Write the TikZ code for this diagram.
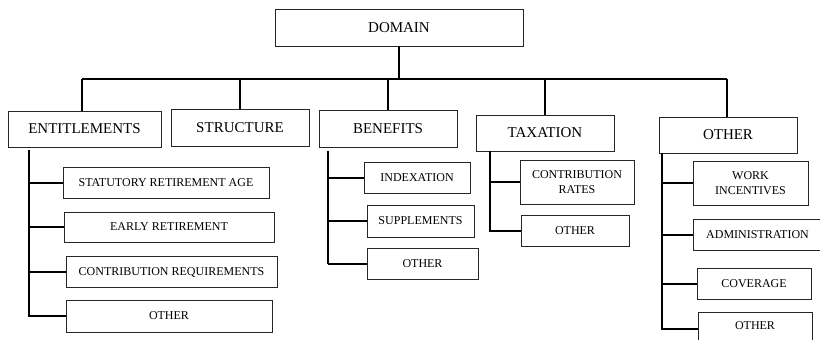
\documentclass[tikz,border=0pt]{standalone}
\usepackage{fontspec}
\setmainfont{Liberation Serif}
\begin{document}
\begin{tikzpicture}[x=1pt,y=-1pt,
  box/.style={draw=black!85, line width=0.9pt, inner sep=0pt, align=center},
  big/.style={box, font=\fontsize{15}{18}\selectfont},
  small/.style={box, font=\fontsize{12}{14.5}\selectfont},
  conn/.style={draw=black, line width=2pt}]
\useasboundingbox (0,0) rectangle (820,340);
\fill[white] (0,0) rectangle (820,340);
\clip (0,0) rectangle (820,340);
% top level
\node[big, minimum width=248, minimum height=37] (dom) at (399,27.5) {DOMAIN};
\node[big, minimum width=153, minimum height=36] (ent) at (84.5,129) {ENTITLEMENTS};
\node[big, minimum width=138, minimum height=37] (str) at (240,127.5) {STRUCTURE};
\node[big, minimum width=138, minimum height=37] (ben) at (388,128.5) {BENEFITS};
\node[big, minimum width=138, minimum height=36] (tax) at (545,133) {TAXATION};
\node[big, minimum width=138, minimum height=36] (oth) at (728,135) {OTHER};
% entitlements children
\node[small, minimum width=206, minimum height=31] (e1) at (166,183) {STATUTORY RETIREMENT AGE};
\node[small, minimum width=210, minimum height=30] (e2) at (169,227) {EARLY RETIREMENT};
\node[small, minimum width=211, minimum height=31] (e3) at (171.5,272) {CONTRIBUTION REQUIREMENTS};
\node[small, minimum width=206, minimum height=32] (e4) at (169,316) {OTHER};
% benefits children
\node[small, minimum width=106, minimum height=31] (b1) at (417,178) {INDEXATION};
\node[small, minimum width=107, minimum height=32] (b2) at (420.5,221) {SUPPLEMENTS};
\node[small, minimum width=111, minimum height=31] (b3) at (422.5,264) {OTHER};
% taxation children
\node[small, minimum width=114, minimum height=44] (t1) at (577,182) {CONTRIBUTION\\RATES};
\node[small, minimum width=108, minimum height=31] (t2) at (575,231) {OTHER};
% other children
\node[small, minimum width=115, minimum height=44] (o1) at (750.5,183) {WORK\\INCENTIVES};
\node[small, minimum width=129, minimum height=31] (o2) at (757.5,235) {ADMINISTRATION};
\node[small, minimum width=114, minimum height=31] (o3) at (754,284) {COVERAGE};
\node[box, minimum width=114, minimum height=34] (o4) at (755,329) {};
\node[font=\fontsize{12}{14.5}\selectfont, inner sep=0pt] (o4t) at (755,326) {OTHER};
% bus
\coordinate (bl) at (82,79);
\coordinate (br) at (727,79);
\draw[conn] (dom.south) -- (dom.south |- bl);
\draw[conn] (bl) -- (br);
\draw[conn] (bl) -- (bl |- ent.north);
\draw[conn] (str.north |- bl) -- (str.north);
\draw[conn] (ben.north |- bl) -- (ben.north);
\draw[conn] (tax.north |- bl) -- (tax.north);
\draw[conn] (br) -- (br |- oth.north);
% entitlements spine
\coordinate (es) at (29,150);
\draw[conn] (es) -- (es |- e4.west) -- (e4.west);
\draw[conn] (es |- e1.west) -- (e1.west);
\draw[conn] (es |- e2.west) -- (e2.west);
\draw[conn] (es |- e3.west) -- (e3.west);
% benefits spine
\coordinate (bs) at (328,151);
\draw[conn] (bs) -- (bs |- b3.west);
\draw[conn] (bs |- b1.west) -- (b1.west);
\draw[conn] (bs |- b2.west) -- (b2.west);
\draw[conn] (bs |- b3.west) -- (b3.west);
% taxation spine
\coordinate (ts) at (490,151);
\draw[conn] (ts) -- (ts |- t2.west) -- (t2.west);
\draw[conn] (ts |- t1.west) -- (t1.west);
% other spine
\coordinate (os) at (662,153);
\draw[conn] (os) -- (os |- o4.west) -- (o4.west);
\draw[conn] (os |- o1.west) -- (o1.west);
\draw[conn] (os |- o2.west) -- (o2.west);
\draw[conn] (os |- o3.west) -- (o3.west);
\end{tikzpicture}
\end{document}
